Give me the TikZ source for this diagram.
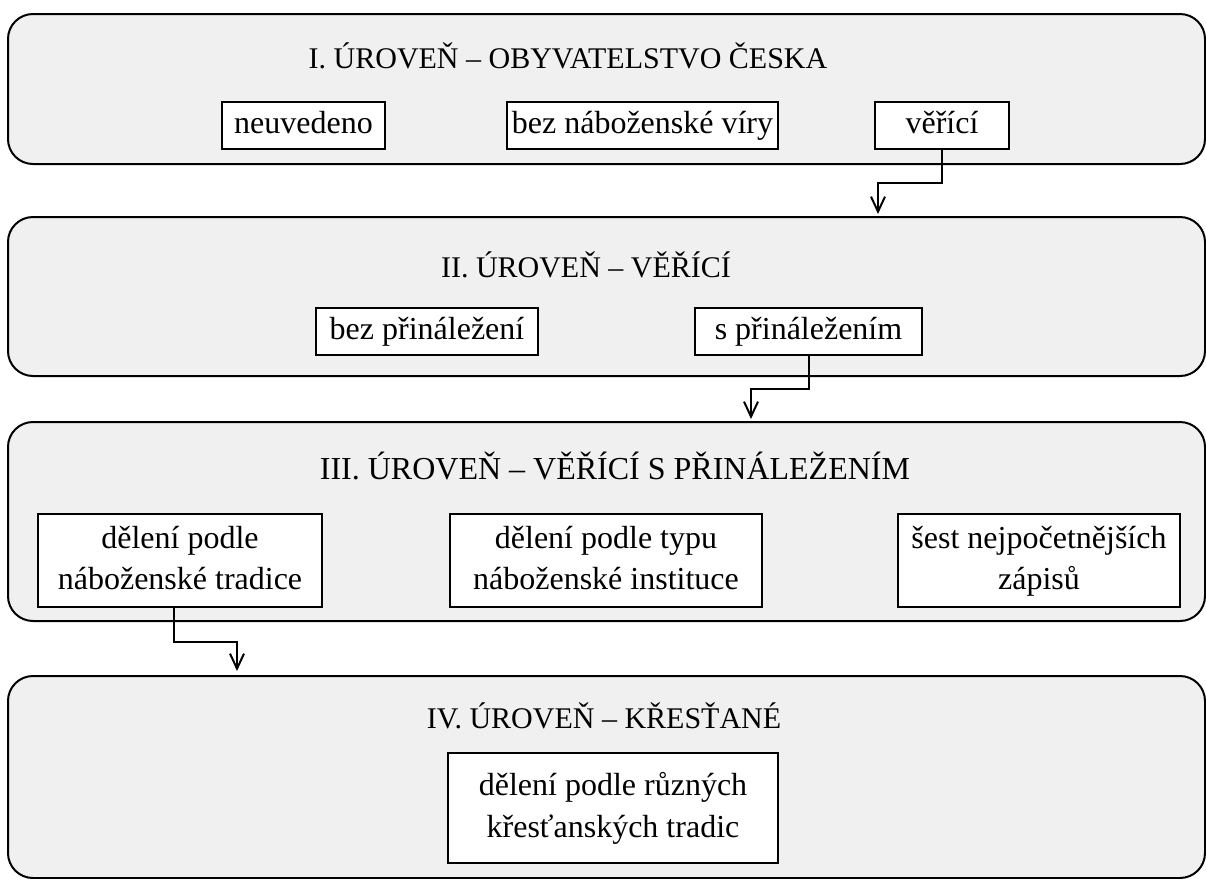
\documentclass[tikz,border=0pt]{standalone}
\usepackage{fontspec}
\setmainfont{Liberation Serif}
\usetikzlibrary{arrows.meta,calc}
\definecolor{panelgray}{HTML}{F0F0F0}
\newcommand\lnstrut{\rule[-3.5pt]{0pt}{15.5pt}}
\tikzset{
  panel/.style={draw=black, line width=1pt, fill=panelgray, rounded corners=12.5pt},
  title/.style={font=\fontsize{15}{18}\selectfont, inner sep=0pt, anchor=center},
  bigtitle/.style={font=\fontsize{16}{18.4}\selectfont, inner sep=0pt, anchor=center},
  itembox/.style={draw=black, line width=0.8pt, fill=white, inner sep=0pt, align=center,
     font=\fontsize{16}{20.8}\selectfont},
  oneline/.style={itembox, text height=11pt, text depth=3.5pt, minimum height=23.5pt},
  conn/.style={line width=1pt, -{Straight Barb[length=7.5pt,width=7pt,line width=1pt]}},
}
\begin{document}
\begin{tikzpicture}[x=0.5pt,y=-0.5pt]
\clip (0,0) rectangle (1206,879);
\fill[white] (0,0) rectangle (1206,879);
% panels
\draw[panel] (8,14) rectangle (1205,164);
\draw[panel] (8,217) rectangle (1205,376);
\draw[panel] (8,422) rectangle (1205,621);
\draw[panel] (8,676) rectangle (1205,878);
% titles
\node[title] (t1) at (568,56) {I. ÚROVEŇ – OBYVATELSTVO ČESKA};
\node[title] (t2) at (586,265) {II. ÚROVEŇ – VĚŘÍCÍ};
\node[bigtitle] (t3) at (615,466) {III. ÚROVEŇ – VĚŘÍCÍ S PŘINÁLEŽENÍM};
\node[title] (t4) at (604,716) {IV. ÚROVEŇ – KŘESŤANÉ};
% level 1 boxes
\node[oneline, minimum width=81.5pt] (b11) at (303.5,125.5) {neuvedeno};
\node[oneline, minimum width=135.5pt] (b12) at (642.5,125.5) {bez náboženské víry};
\node[oneline, minimum width=67pt] (b13) at (942,125.5) {věřící};
% level 2 boxes
\node[oneline, minimum width=111pt] (b21) at (427,331.5) {bez přináležení};
\node[oneline, minimum width=113.5pt] (b22) at (808.5,331.5) {s přináležením};
% level 3 boxes
\node[itembox, minimum width=142pt, minimum height=46.5pt] (b31) at (180,560.5) {\lnstrut dělení podle\\\lnstrut náboženské tradice};
\node[itembox, minimum width=156pt, minimum height=46.5pt] (b32) at (606,560.5) {\lnstrut dělení podle typu\\\lnstrut náboženské instituce};
\node[itembox, minimum width=141pt, minimum height=46.5pt] (b33) at (1039,560.5) {\lnstrut šest nejpočetnějších\\\lnstrut zápisů};
% level 4 box
\node[itembox, minimum width=165pt, minimum height=55pt] (b41) at (613,808) {\lnstrut dělení podle různých\\\lnstrut křesťanských tradic};
% connectors
\coordinate (k1) at (878,183);
\coordinate (a1) at (878,214);
\draw[conn] (b13.south) |- (k1) -- (a1);
\coordinate (k2) at (751,389);
\coordinate (a2) at (751,419);
\draw[conn] (b22.south) |- (k2) -- (a2);
\coordinate (k3) at (237,642);
\coordinate (a3) at (237,671);
\draw[conn] ($(b31.south)+(-6,0)$) |- (k3) -- (a3);
\end{tikzpicture}
\end{document}
